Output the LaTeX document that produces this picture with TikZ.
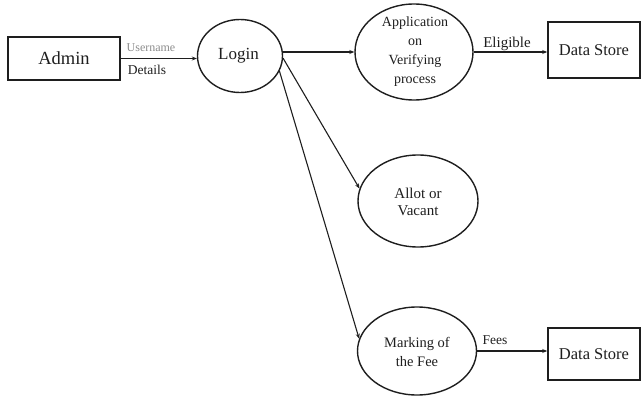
\documentclass[tikz,border=0pt]{standalone}
\usepackage{fontspec}
\setmainfont{Liberation Serif}
\usetikzlibrary{shapes.geometric,arrows.meta}
\definecolor{ink}{HTML}{1E1E1E}
\definecolor{soft}{HTML}{8C8C8C}
\begin{document}
\begin{tikzpicture}[x=1pt,y=-1pt,
  entity/.style={draw=ink,line width=1.6pt,inner sep=0pt,rectangle},
  process/.style={draw=ink,line width=1.4pt,inner sep=0pt,ellipse},
  label/.style={text=ink,inner sep=0pt,align=center},
  flow/.style={draw=ink,line width=1.1pt,-{Stealth[length=5pt,width=4pt]}},
  tag/.style={text=ink,inner sep=0pt,font=\fontsize{13.5}{15}\selectfont}]
\useasboundingbox (0,0) rectangle (643,396);

% external entities and data stores
\node[entity,minimum width=112pt,minimum height=43pt] (admin) at (64,58.5) {};
\node[label,font=\fontsize{18.5}{20}\selectfont] (admintext) at (admin) {Admin};
\node[entity,minimum width=92pt,minimum height=56pt] (store1) at (594,50) {};
\node[label,font=\fontsize{16.5}{18}\selectfont] (store1text) at (store1) {Data Store};
\node[entity,minimum width=92pt,minimum height=52pt] (store2) at (594,354) {};
\node[label,font=\fontsize{16.5}{18}\selectfont] (store2text) at (store2) {Data Store};

% processes
\node[process,minimum width=85pt,minimum height=73pt] (login) at (240,56) {};
\node[label,font=\fontsize{17}{19}\selectfont] (logintext) at (238.5,56) {Login};
\node[process,minimum width=118pt,minimum height=96pt] (app) at (414,52) {};
\node[label,font=\fontsize{14}{19}\selectfont] (apptext) at (415,52) {Application\\on\\Verifying\\process};
\node[process,minimum width=120pt,minimum height=92pt] (allot) at (418,201) {};
\node[label,font=\fontsize{15}{17.5}\selectfont] (allottext) at (418,202) {Allot or\\Vacant};
\node[process,minimum width=119pt,minimum height=88pt] (mark) at (417,351) {};
\node[label,font=\fontsize{14.5}{19}\selectfont] (marktext) at (417,352) {Marking of\\the Fee};

% data flows
\draw[flow] (admin.east) -- (admin.east -| login.west);
\node[tag,text=soft,font=\fontsize{12}{13}\selectfont] (username) at (151,48) {Username};
\node[tag] (details) at (147,70) {Details};
\draw[flow] (app.west -| login.east) -- (app.west);
\draw[flow] (login.-3) -- (allot.168);
\draw[flow] (login.-21) -- (mark.168);
\draw[flow] (app.east) -- (app.east -| store1.west);
\node[tag,font=\fontsize{15}{16}\selectfont] (eligible) at (507,43.5) {Eligible};
\draw[flow] (mark.east) -- (mark.east -| store2.west);
\node[tag] (fees) at (495,340) {Fees};
\end{tikzpicture}
\end{document}
